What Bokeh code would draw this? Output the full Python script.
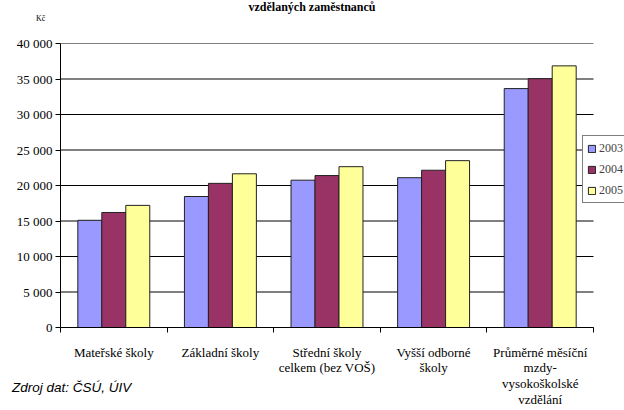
from bokeh.plotting import figure
from bokeh.layouts import column
from bokeh.models import Range1d, FixedTicker, Legend, LegendItem, Div, ColumnDataSource
from bokeh.embed import file_html
from bokeh.resources import INLINE

categories = ["Mateřské školy", "Základní školy", "Střední školy\ncelkem (bez VOŠ)",
              "Vyšší odborné\nškoly", "Průměrné měsíční\nmzdy-\nvysokoškolské\nvzdělání"]
years = ["2003", "2004", "2005"]
v2003 = [15100, 18450, 20750, 21100, 33650]
v2004 = [16200, 20300, 21400, 22150, 35050]
v2005 = [17200, 21650, 22650, 23500, 36850]
colors = ["#9999FF", "#993366", "#FFFF99"]
y_ticks = [0, 5000, 10000, 15000, 20000, 25000, 30000, 35000, 40000]
title_text = "vzdělaných zaměstnanců"
unit_text = "Kč"
source_text = "Zdroj dat: ČSÚ, ÚIV"

SERIF = "'Liberation Serif', 'Times New Roman', serif"
W, H = 624, 410
LEFT, RIGHT_DATA_PX, TOP, BOTTOM = 60, 593, 43, 327
n = len(categories)
x_end = n * (W - LEFT) / (RIGHT_DATA_PX - LEFT)

p = figure(width=W, height=H, output_backend="svg", toolbar_location=None,
           x_range=Range1d(0, x_end), y_range=Range1d(0, 40000),
           min_border_left=LEFT, min_border_right=0, min_border_top=TOP,
           min_border_bottom=H - BOTTOM)
p.outline_line_color = None
p.background_fill_color = "white"

p.segment(x0=[0] * len(y_ticks), x1=[n] * len(y_ticks), y0=y_ticks, y1=y_ticks,
          line_color="black", line_width=1)

bw = 0.225
renderers = []
for k, vals in enumerate([v2003, v2004, v2005]):
    xs = [i + 0.5 + (k - 1) * bw for i in range(n)]
    src = ColumnDataSource(dict(x=xs, top=vals))
    r = p.vbar(x="x", top="top", bottom=0, width=bw, source=src,
               fill_color=colors[k], line_color="#222222", line_width=1)
    renderers.append(r)

xa = p.xaxis[0]
xa.bounds = (0, n)
xa.ticker = FixedTicker(ticks=[i + 0.5 for i in range(n)], minor_ticks=list(range(n + 1)))
xa.major_label_overrides = {i + 0.5: c for i, c in enumerate(categories)}
xa.major_tick_out = 0
xa.major_tick_in = 0
xa.minor_tick_out = 5
xa.minor_tick_in = 0
xa.minor_tick_line_color = "black"
xa.axis_line_color = "black"
xa.major_label_text_font = SERIF
xa.major_label_text_font_size = "13px"
xa.major_label_text_color = "black"
xa.major_label_text_line_height = 1.05
xa.major_label_standoff = 12

ya = p.yaxis[0]
ya.ticker = FixedTicker(ticks=y_ticks, minor_ticks=[])
ya.major_label_overrides = {t: f"{t:,}".replace(",", " ") for t in y_ticks}
ya.major_tick_out = 5
ya.major_tick_in = 0
ya.major_tick_line_color = "black"
ya.axis_line_color = "black"
ya.major_label_text_font = SERIF
ya.major_label_text_font_size = "13px"
ya.major_label_text_color = "black"
ya.major_label_standoff = 3

p.xgrid.grid_line_color = None
p.ygrid.grid_line_color = None

legend = Legend(items=[LegendItem(label=y, renderers=[r]) for y, r in zip(years, renderers)],
                location=(RIGHT_DATA_PX - LEFT - 11, 124))
legend.label_text_font = SERIF
legend.label_text_font_size = "12px"
legend.glyph_width = 9
legend.glyph_height = 9
legend.label_height = 16
legend.spacing = 5
legend.padding = 4
legend.margin = 0
legend.label_standoff = 3
legend.border_line_color = "black"
legend.border_line_width = 1
legend.background_fill_alpha = 1
p.add_layout(legend, "center")

title_div = Div(text=title_text, width=W, height=14, margin=(-H, 0, 0, 0),
                styles={"font-family": SERIF, "font-weight": "bold", "font-size": "12px",
                        "text-align": "center", "color": "black", "line-height": "14px"})
unit_div = Div(text=unit_text, width=30, height=10, margin=(0, 0, 0, 36),
               styles={"font-family": SERIF, "font-size": "8px", "color": "black",
                       "line-height": "10px"})
src_div = Div(text=source_text, width=200, height=18, margin=(355, 0, 0, 12),
              styles={"font-family": "'Liberation Sans', Arial, sans-serif", "font-style": "italic",
                      "font-size": "13.5px", "color": "black", "line-height": "18px"})

layout = column(p, title_div, unit_div, src_div, spacing=0)
open("out.html", "w").write(file_html(layout, INLINE))
